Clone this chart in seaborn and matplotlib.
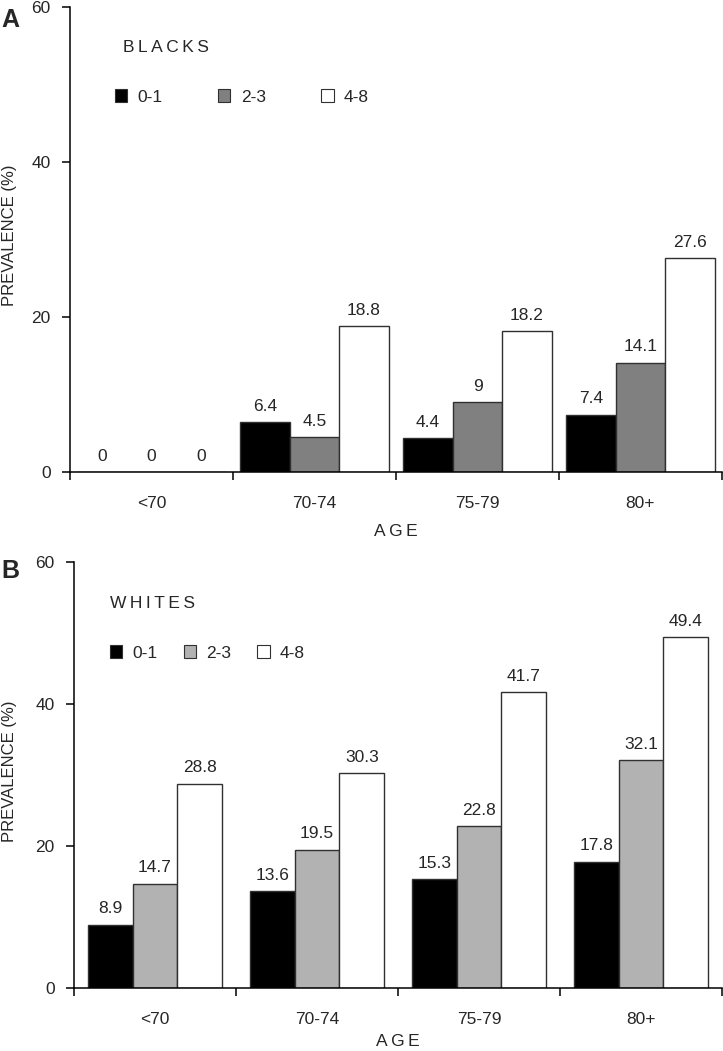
import pandas as pd
import seaborn as sns
import matplotlib.pyplot as plt
from matplotlib.patches import Patch

ages = ['<70', '70-74', '75-79', '80+']
groups = ['0-1', '2-3', '4-8']

blacks_01 = [0, 6.4, 4.4, 7.4]
blacks_23 = [0, 4.5, 9, 14.1]
blacks_48 = [0, 18.8, 18.2, 27.6]

whites_01 = [8.9, 13.6, 15.3, 17.8]
whites_23 = [14.7, 19.5, 22.8, 32.1]
whites_48 = [28.8, 30.3, 41.7, 49.4]

y_ticks = [0, 20, 40, 60]


def spaced(s):
    # mimic the letter-spaced look of the original figure
    return '\u2009'.join(str(s))


def make_df(v01, v23, v48):
    rows = []
    for g, vals in zip(groups, [v01, v23, v48]):
        for a, v in zip(ages, vals):
            rows.append({'Age': a, 'Group': g, 'Prevalence': v})
    return pd.DataFrame(rows)


sns.set_style('white')
plt.rcParams['font.family'] = ['Liberation Sans', 'DejaVu Sans']
plt.rcParams['axes.linewidth'] = 1.1

fig = plt.figure(figsize=(7.23, 10.51), dpi=100)
W, H = 723, 1051
FS = 12.5


def panel(rect, df, colors, bar_w, title, title_xy, leg_xy, colspace, letter, letter_y,
          ylab_y, xlab_pad):
    left, top, right, bottom = rect
    ax = fig.add_axes([left / W, 1 - bottom / H, (right - left) / W, (bottom - top) / H])
    pal = dict(zip(groups, colors))
    sns.barplot(data=df, x='Age', y='Prevalence', hue='Group', order=ages,
                hue_order=groups, palette=pal, width=bar_w, gap=0,
                edgecolor='#303030', linewidth=1.0, saturation=1, ax=ax, legend=False)
    for cont in ax.containers:
        labels = [f'{v:g}' for v in cont.datavalues]
        ax.bar_label(cont, labels=labels, padding=6, fontsize=FS)

    ax.set_xlim(-0.5, 3.5)
    ax.set_ylim(0, 60)
    ax.set_yticks(y_ticks)
    ax.set_yticklabels([str(t) for t in y_ticks], fontsize=FS)
    ax.set_xticks([-0.5, 0.5, 1.5, 2.5, 3.5])
    ax.set_xticklabels([])
    ax.set_xticks(range(len(ages)), minor=True)
    ax.set_xticklabels(ages, minor=True, fontsize=FS)
    ax.tick_params(axis='both', which='major', direction='out', length=6, width=1.1,
                   color='black', left=True, bottom=True, pad=8)
    ax.tick_params(axis='x', which='minor', length=0, pad=17)
    ax.set_xlabel(spaced('AGE'), fontsize=FS, labelpad=xlab_pad)
    ax.set_ylabel('')
    sns.despine(ax=ax)
    for sp in ['left', 'bottom']:
        ax.spines[sp].set_color('black')

    ax.text(title_xy[0], title_xy[1], spaced(title), transform=ax.transAxes,
            fontsize=FS, va='center', ha='left')
    handles = [Patch(facecolor=c, edgecolor='#303030', linewidth=0.8) for c in colors]
    ax.legend(handles, groups, ncol=3, frameon=False,
              loc='center left', bbox_to_anchor=leg_xy, borderpad=0, borderaxespad=0,
              handlelength=0.7, handleheight=0.7, handletextpad=0.6,
              columnspacing=colspace, fontsize=FS)

    fig.text(1 / W, 1 - letter_y / H, letter, fontsize=18, fontweight='bold',
             va='center', ha='left')
    fig.text(10 / W, 1 - ylab_y / H, 'PREVALENCE (%)', rotation=90, fontsize=12,
             va='center', ha='center')
    return ax


df_b = make_df(blacks_01, blacks_23, blacks_48)
df_w = make_df(whites_01, whites_23, whites_48)

rect_a = (70, 7, 722, 472)
rect_b = (74, 562, 722, 988)

panel(rect_a, df_b, ['#000000', '#808080', '#ffffff'], 0.91, 'BLACKS',
      ((123 - 70) / 652, (472 - 48) / 465), ((115 - 70) / 652, (472 - 97) / 465),
      3.2, 'A', 20, 235, 10)
panel(rect_b, df_w, ['#000000', '#b2b2b2', '#ffffff'], 0.83, 'WHITES',
      ((110 - 74) / 648, (988 - 603) / 426), ((110 - 74) / 648, (988 - 653) / 426),
      1.5, 'B', 571, 771, 5)

plt.savefig('out.png', dpi=100)
